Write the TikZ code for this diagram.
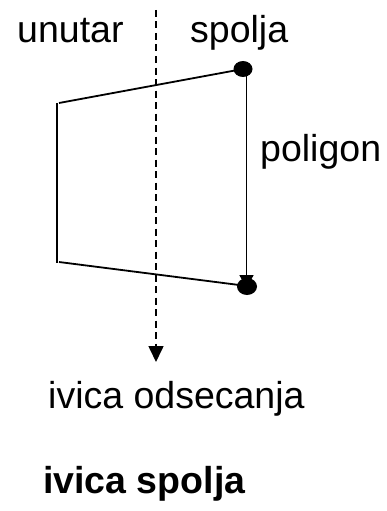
\documentclass[tikz,border=0pt]{standalone}
\usepackage{fontspec}
\setmainfont{Liberation Sans}
\usetikzlibrary{arrows.meta,shapes.geometric}
\begin{document}
\begin{tikzpicture}[x=1pt,y=-1pt,
  lbl/.style={inner sep=0pt,anchor=base west,font=\fontsize{37.5}{40}\selectfont},
  blbl/.style={lbl,font=\fontsize{37.5}{40}\selectfont\bfseries},
  dot/.style={ellipse,fill=black,inner sep=0pt},
  edge/.style={line width=1.8pt},
  pt/.style={inner sep=0pt,minimum size=0pt}]
\useasboundingbox (0,0) rectangle (386,511);
% corner points
\coordinate (tl) at (59,103);
\coordinate (bl) at (59,262);
\coordinate (lt) at (57,103);
\coordinate (lb) at (57,263);
\node[dot,minimum width=19pt,minimum height=16pt] (tr) at (243,69) {};
\node[pt] (brc) at (247,286) {};
\coordinate (vt) at (246.5,72);
\coordinate (vb) at (246.5,288);
% polygon edges
\draw[edge] (tl) -- (tr.center);
\draw[edge] (lt) -- (lb);
\draw[edge] (bl) -- (brc.center);
\draw[edge,-{Triangle[length=13pt,width=14pt]}] (vt) -- (vb);
\node[dot,minimum width=20pt,minimum height=17pt] (br) at (247,286.5) {};
% clipping edge
\coordinate (ct) at (156,10);
\coordinate (cb) at (156,362);
\draw[line width=1.6pt,dash pattern=on 7pt off 4.5pt,-{Triangle[length=16pt,width=15pt]}] (ct) -- (cb);
% labels
\node[lbl] (unutar) at (17,43) {unutar};
\node[lbl] (spolja) at (190,43) {spolja};
\node[lbl] (poligon) at (260,161) {poligon};
\node[lbl] (ivica) at (48,408) {ivica odsecanja};
\node[blbl] (ivsp) at (43,493) {ivica spolja};
\end{tikzpicture}
\end{document}
